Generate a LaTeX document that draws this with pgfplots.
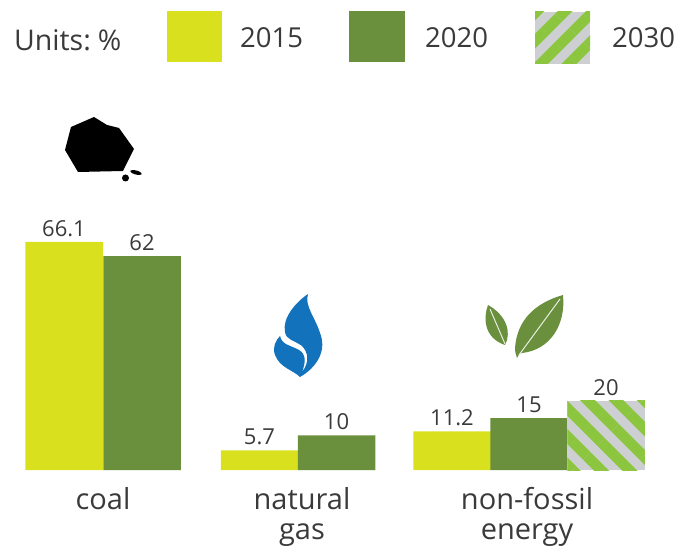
\documentclass[border=0pt]{standalone}
\usepackage{fontspec}
\setmainfont{Open Sans}
\usepackage{pgfplots}
\pgfplotsset{compat=1.18}
\usetikzlibrary{patterns.meta}
\definecolor{cY}{HTML}{D9E01E}
\definecolor{cG}{HTML}{6A903E}
\definecolor{cH}{HTML}{8CC63F}
\definecolor{cS}{HTML}{CDCFD2}
\definecolor{cT}{HTML}{3A3A3C}
\definecolor{cB}{HTML}{1272BC}
\pgfplotstableread{
x y
64 66.1
259.5 5.7
452 11.2
}\tblA
\pgfplotstableread{
x y
142 62
336.5 10
529 15
}\tblB
\pgfplotstableread{
x y
606 20
}\tblC
\begin{document}
\begin{tikzpicture}[x=1pt,y=1pt]
\useasboundingbox (0,-78) rectangle (676,470);
\begin{axis}[
  at={(0,0)},anchor=south west,
  width=676pt,height=470pt,scale only axis,
  xmin=0,xmax=676,ymin=0,ymax=136.2,
  clip=false,
  axis x line*=bottom,
  axis y line=none,
  x axis line style={draw=none},
  major tick length=0pt,
  ytick=\empty,
  xtick={103,302,527},
  xticklabels={coal,natural\\gas,non-fossil\\energy},
  xticklabel style={align=center,text=cT,font=\fontsize{29}{29.5}\selectfont,yshift=-14pt,anchor=north},
  ybar,
  bar width=77.5,
  bar shift=0pt,
  /pgf/number format/assume math mode=true,
  nodes near coords,
  nodes near coords style={text=cT,font=\fontsize{22}{26}\selectfont,anchor=south,yshift=2pt},
]
\addplot[fill=cY,draw=none] table[x=x,y=y]{\tblA};
\addplot[fill=cG,draw=none] table[x=x,y=y]{\tblB};
\addplot[draw=none,preaction={fill=cS},pattern={Lines[angle=-45,distance=20pt,line width=10.5pt]},pattern color=cH] table[x=x,y=y]{\tblC};
\end{axis}
\begin{scope}[yshift=470pt,yscale=-1]
  % legend and header
  \node[anchor=west,text=cT,font=\fontsize{28.5}{32}\selectfont,inner sep=0] at (14,40) {Units:\hspace{-0.1em} \%};
  \fill[cY] (167,11) rectangle (222,62);
  \node[anchor=west,text=cT,font=\fontsize{27.5}{32}\selectfont,inner sep=0] at (240,38) {2015};
  \fill[cG] (349,11) rectangle (405,62);
  \node[anchor=west,text=cT,font=\fontsize{27.5}{32}\selectfont,inner sep=0] at (425,38) {2020};
  \fill[cS] (535,12) rectangle (590,64);
  \fill[pattern={Lines[angle=45,distance=20pt,line width=10.5pt]},pattern color=cH] (535,12) rectangle (590,64);
  \node[anchor=west,text=cT,font=\fontsize{27.5}{32}\selectfont,inner sep=0] at (612,38) {2030};
  % coal
  \fill[black] (94,117) -- (107,125) -- (119,128) -- (134,149) -- (123,171) -- (78,172) -- (65,150) -- (71,127) -- cycle;
  \fill[black] (136,172.5) ellipse [x radius=6,y radius=2,rotate=15];
  \fill[black] (125.5,178) circle (3.5);
  % flame
  \fill[cB] (308,294) .. controls (304,306) and (316,318) .. (321,336)
     .. controls (326,352) and (316,368) .. (300,377)
     .. controls (293,370) and (280,368) .. (275,355)
     .. controls (272,347) and (276,340) .. (280,336)
     .. controls (282,345) and (290,345) .. (299,350)
     .. controls (306,354) and (306,362) .. (302,372)
     .. controls (310,362) and (308,352) .. (302,346)
     .. controls (294,340) and (286,340) .. (285,332)
     .. controls (282,318) and (296,302) .. (308,294) -- cycle;
  % leaves
  \fill[cG] (563,295) .. controls (535,303) and (517,320) .. (515,348)
     .. controls (515,352) and (516,355) .. (517,358)
     .. controls (519,354) and (520,353) .. (522,353)
     .. controls (550,350) and (566,325) .. (563,295) -- cycle;
  \draw[white!85!cG,line width=1pt] (560,299) -- (519,355);
  \fill[cG] (488,305) .. controls (483,318) and (484,338) .. (505,345)
     .. controls (512,332) and (506,315) .. (488,305) -- cycle;
  \draw[white!85!cG,line width=1pt] (490,309) -- (505,344);
\end{scope}
\end{tikzpicture}
\end{document}
